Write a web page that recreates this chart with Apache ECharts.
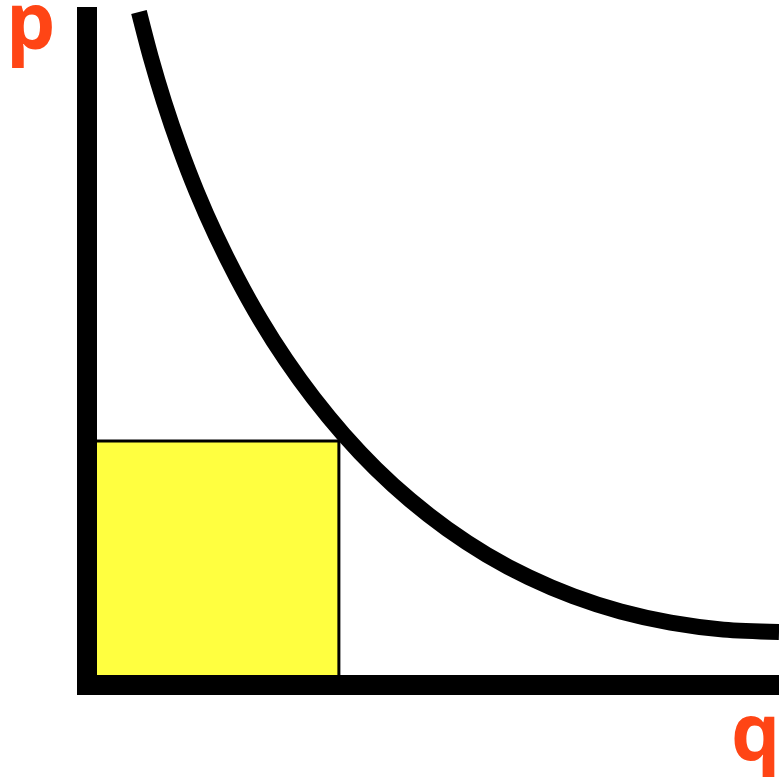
<!DOCTYPE html>
<html>
<head>
<meta charset="utf-8">
<script src="https://cdn.jsdelivr.net/npm/echarts@6/dist/echarts.min.js"></script>
<style>
html,body{margin:0;padding:0;background:#fff;}
#chart{width:779px;height:777px;}
</style>
</head>
<body>
<div id="chart"></div>
<script>
// Demand curve (quantity q, price p)
var qValues = [0.751, 0.921, 1.116, 1.337, 1.585, 1.863, 2.171, 2.507, 2.874, 3.275, 3.707, 4.172, 4.672, 5.207, 5.777, 6.384, 7.029, 7.712, 8.435, 9.197, 10.0];
var pValues = [9.926, 9.261, 8.594, 7.932, 7.276, 6.631, 6.000, 5.386, 4.796, 4.230, 3.695, 3.192, 2.726, 2.301, 1.920, 1.588, 1.308, 1.083, 0.919, 0.817, 0.782];
// Revenue rectangle corner
var rectQ = 3.64;
var rectP = 3.60;
var axisLabels = ['q', 'p'];

var curveData = qValues.map(function (q, i) { return [q, pValues[i]]; });

var chart = echarts.init(document.getElementById('chart'), null, {renderer: 'canvas'});
chart.setOption({
  animation: false,
  backgroundColor: '#ffffff',
  grid: {left: 87, right: 0, top: 7, bottom: 92},
  xAxis: {
    type: 'value', min: 0, max: 10, z: 10,
    axisLine: {show: true, onZero: false, lineStyle: {color: '#000', width: 20, cap: 'square'}},
    axisTick: {show: false}, axisLabel: {show: false}, splitLine: {show: false}
  },
  yAxis: {
    type: 'value', min: 0, max: 10, z: 10,
    axisLine: {show: true, onZero: false, lineStyle: {color: '#000', width: 20, cap: 'butt'}},
    axisTick: {show: false}, axisLabel: {show: false}, splitLine: {show: false}
  },
  series: [{
    type: 'line',
    data: curveData,
    smooth: 0.3,
    showSymbol: false,
    symbol: 'none',
    lineStyle: {color: '#000', width: 16, cap: 'butt'},
    markArea: {
      silent: true,
      label: {show: false},
      itemStyle: {color: '#ffff40', opacity: 1, borderColor: '#000', borderWidth: 3},
      data: [[{coord: [0, 0]}, {coord: [rectQ, rectP]}]]
    }
  }],
  graphic: [
    {type: 'text', x: 6, y: 27, style: {text: axisLabels[1], font: 'bold 78px "Open Sans"', fill: '#ff4515', verticalAlign: 'middle', align: 'left'}},
    {type: 'text', x: 731, y: 738, style: {text: axisLabels[0], font: 'bold 78px "Open Sans"', fill: '#ff4515', verticalAlign: 'middle', align: 'left'}}
  ]
});
</script>
</body>
</html>
